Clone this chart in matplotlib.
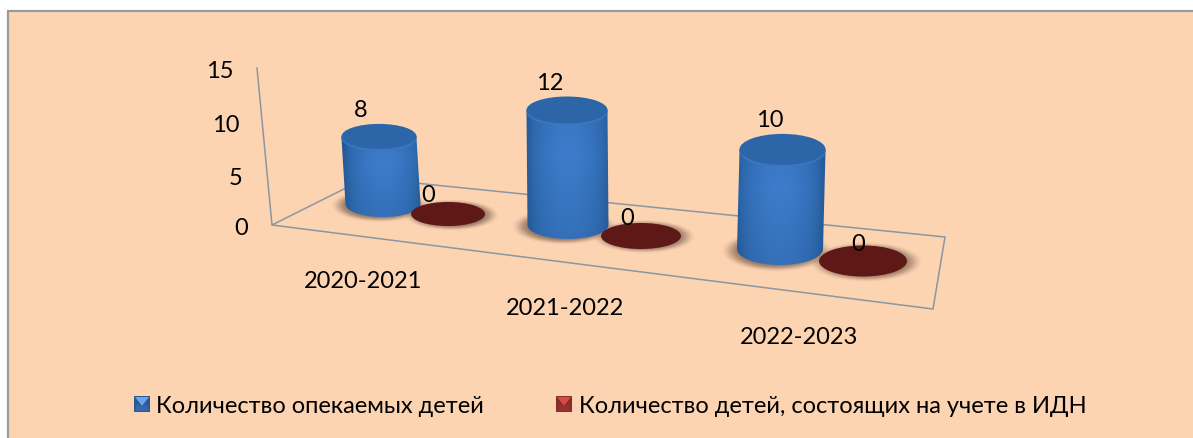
import numpy as np
import matplotlib
matplotlib.use('Agg')
import matplotlib.pyplot as plt
from matplotlib.patches import Polygon, Ellipse, Rectangle
from matplotlib.colors import LinearSegmentedColormap, to_rgb

# ---- data ----
categories = ['2020-2021', '2021-2022', '2022-2023']
series_names = ['Количество опекаемых детей', 'Количество детей, состоящих на учете в ИДН']
guardianship = [8, 12, 10]
idn_registered = [0, 0, 0]
axis_ticks = [0, 5, 10, 15]

# ---- pseudo-3D projection / style (figure pixels) ----
W, H = 1193, 439
BG = '#fdd4b2'
FONT = ['Lato', 'Open Sans', 'DejaVu Sans']
FS = 17.0
DY = 2
plt.rcParams['font.family'] = FONT

fig = plt.figure(figsize=(W / 100, H / 100), dpi=100, facecolor='white')
ax = fig.add_axes([0, 0, 1, 1])
ax.set_xlim(0, W); ax.set_ylim(H, 0); ax.axis('off')
ax.set_aspect('auto')

ax.add_patch(Rectangle((8, 12), W, H, fc=BG, ec='#9a9a9a', lw=1.6, zorder=0))

# floor and wall
GRID = '#8b96a0'
ax.add_patch(Polygon([(272, 226), (366, 179), (945, 238), (933, 310)], closed=True, fc='none', ec=GRID, lw=1.1, zorder=1))
ax.plot([257, 272], [69, 226], color=GRID, lw=1.1, zorder=1)

tick_y = [227, 177, 124, 69]
tick_x = [241, 236, 226, 220]
for t, tx, ty in zip(axis_ticks, tick_x, tick_y):
    ax.text(tx, ty + DY, str(t), ha='center', va='center', fontsize=FS, color='k', zorder=8)

# per-category geometry
cx_base = [383, 568, 780]
cy_base = [205, 226, 250]
rx_c = [37.5, 40.5, 43]
ry_c = [13, 14, 16]
unit = [8.25, 9.45, 9.8]
top_dx = [-4, -1, 2.5]
dx_red = [448, 641, 863]
dy_red = [215, 237, 262]
rx_r = [37, 40, 44]
ry_r = [12, 13, 15.5]
cat_x = [363, 565, 799]
cat_y = [280, 307, 336]
lab_blue = [(361, 109), (550, 82), (770, 119)]
lab_red = [(428, 194), (627, 217), (858, 243)]

side_cmap = LinearSegmentedColormap.from_list('c', ['#1e4c84', '#2f69ae', '#3d7ccb'])


def shadow(cx, cy, rx, ry, color, z, spread=1.32, strength=0.68):
    """Soft blurred ellipse under a mark."""
    x0, x1 = cx - rx * 1.5, cx + rx * 1.5
    y0, y1 = cy - ry * 1.8, cy + ry * 1.8
    xx, yy = np.meshgrid(np.linspace(x0, x1, 160), np.linspace(y0, y1, 100))
    r = np.sqrt(((xx - cx) / rx) ** 2 + ((yy - cy) / ry) ** 2)
    a = np.clip((spread - r) / (spread - 0.85), 0, 1)
    a = a * a * (3 - 2 * a) * strength
    rgba = np.zeros(xx.shape + (4,))
    rgba[..., :3] = to_rgb(color)
    rgba[..., 3] = a
    ax.imshow(rgba, extent=(x0, x1, y1, y0), aspect='auto', zorder=z, interpolation='bilinear')


def arc(cx, cy, rx, ry, a0, a1, n=60):
    t = np.linspace(a0, a1, n)
    return np.c_[cx + rx * np.cos(t), cy + ry * np.sin(t)]


for i, v in enumerate(guardianship):
    cx, cy, rx, ry = cx_base[i], cy_base[i], rx_c[i], ry_c[i]
    h = v * unit[i]
    tx, ty = cx + top_dx[i], cy - h
    shadow(cx - 4, cy + 2, rx, ry, '#6e5142', 2)
    pts = np.vstack([arc(tx, ty, rx, ry, np.pi, 2 * np.pi), arc(cx, cy, rx, ry, 0, np.pi)])
    poly = Polygon(pts, closed=True, fc='none', ec='none', transform=ax.transData)
    ax.add_patch(poly)
    xx = np.linspace(0, 1, 200)
    yy = np.linspace(0, 1, 100)[:, None]
    g = np.sin(np.pi * xx) ** 0.7 * (1 - 0.3 * np.abs(yy - 0.4) / 0.6)
    im = ax.imshow(g, extent=(cx - rx - 6, cx + rx + 6, cy + ry, ty - ry), cmap=side_cmap,
                   vmin=0, vmax=1, aspect='auto', zorder=4, interpolation='bilinear')
    im.set_clip_path(poly)
    ax.add_patch(Ellipse((tx, ty), 2 * rx, 2 * ry, fc='#3a77c2', ec='none', zorder=5))
    ax.add_patch(Ellipse((tx, ty - 1.6), 2 * rx, 2 * ry - 1.0, fc='#2c65a8', ec='none', zorder=5))
    ax.text(lab_blue[i][0], lab_blue[i][1] + DY, str(v), ha='center', va='center', fontsize=FS, color='k', zorder=8)

for i, v in enumerate(idn_registered):
    cx, cy, rx, ry = dx_red[i], dy_red[i], rx_r[i], ry_r[i]
    shadow(cx + 3, cy + 1, rx, ry, '#6e5142', 2)
    ax.add_patch(Ellipse((cx, cy - v), 2 * rx, 2 * ry, fc='#5e1815', ec='none', zorder=5))
    ax.text(lab_red[i][0], lab_red[i][1] + DY, str(v), ha='center', va='center', fontsize=FS, color='k', zorder=8)

for c, x, y in zip(categories, cat_x, cat_y):
    ax.text(x, y + DY, c, ha='center', va='center', fontsize=FS, color='k', zorder=8)


# legend
def swatch(x0, y0, s, light, mid, dark):
    ax.add_patch(Rectangle((x0, y0), s, s, fc=dark, ec='none', zorder=6))
    ax.add_patch(Polygon([(x0 + 1, y0 + 1), (x0 + s - 1, y0 + 1), (x0 + s / 2, y0 + s * 0.62)], closed=True, fc=light, ec='none', zorder=7))
    ax.add_patch(Polygon([(x0 + 1, y0 + s - 1), (x0 + s - 1, y0 + s - 1), (x0 + s - 3, y0 + s * 0.5), (x0 + s / 2, y0 + s * 0.62), (x0 + 3, y0 + s * 0.5)], closed=True, fc=mid, ec='none', zorder=7))


swatch(134, 397, 16, '#6aa6e6', '#3468a8', '#2a5a96')
swatch(556, 397, 16, '#d84a44', '#9a302d', '#80302c')
ax.text(156, 405 + DY, series_names[0], ha='left', va='center', fontsize=FS, color='k', zorder=8)
ax.text(579, 405 + DY, series_names[1], ha='left', va='center', fontsize=FS, color='k', zorder=8)

ax.set_xlim(0, W); ax.set_ylim(H, 0)
fig.savefig('out.png', dpi=100, facecolor='white')
